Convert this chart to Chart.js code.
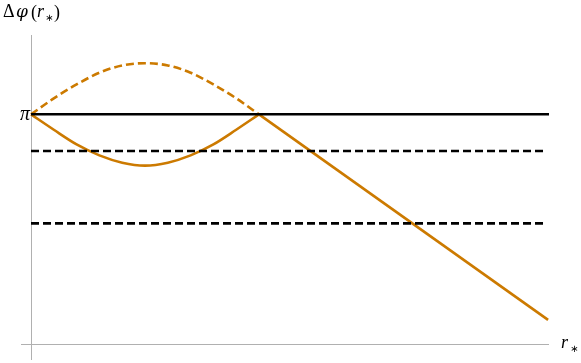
<!DOCTYPE html>
<html>
<head>
<meta charset="utf-8">
<script src="https://cdn.jsdelivr.net/npm/chart.js@4.4.1/dist/chart.umd.min.js"></script>
<style>
  html, body { margin: 0; padding: 0; background: #fff; }
  #wrap { width: 581px; height: 363px; }
</style>
</head>
<body>
<div id="wrap"><canvas id="plot"></canvas></div>
<script>
// values (x in units of the bump width, y in radians)
const PI = 3.1416;
const bumpX = [0, 0.1, 0.2, 0.3, 0.4, 0.5, 0.6, 0.7, 0.8, 0.9, 1];
const dipY = [3.14, 2.93, 2.73, 2.58, 2.48, 2.44, 2.48, 2.58, 2.73, 2.93, 3.14];
const archY = [3.14, 3.36, 3.55, 3.71, 3.81, 3.84, 3.81, 3.71, 3.55, 3.36, 3.14];
const slopeX = [1, 2.268];
const slopeY = [3.14, 0.33];
const levelPi = [PI, PI];
const levelsDashed = [2.64, 1.65];
const levelX = [0, 2.272];
const dashedX = [0, 2.254];

const orange = '#cc7a00';

function pts(xs, ys) {
    return xs.map((x, i) => ({ x: x, y: ys[i] }));
}

const datasets = [
    {
        data: pts(levelX, levelPi),
        borderColor: '#000', borderWidth: 2.6, pointRadius: 0, tension: 0
    },
    ...levelsDashed.map(v => ({
        data: pts(dashedX, [v, v]),
        borderColor: '#000', borderWidth: 2.6, borderDash: [8, 4], pointRadius: 0, tension: 0
    })),
    {
        data: pts(bumpX, archY),
        borderColor: orange, borderWidth: 2.6, borderDash: [8, 4], pointRadius: 0,
        cubicInterpolationMode: 'monotone'
    },
    {
        data: pts(bumpX, dipY),
        borderColor: orange, borderWidth: 2.6, pointRadius: 0,
        cubicInterpolationMode: 'monotone'
    },
    {
        data: pts(slopeX, slopeY),
        borderColor: orange, borderWidth: 2.6, pointRadius: 0, tension: 0
    }
];

const axesAndLabels = {
    id: 'axesAndLabels',
    beforeDatasetsDraw(chart) {
        const ctx = chart.ctx;
        const a = chart.chartArea;
        const x0 = Math.round(chart.scales.x.getPixelForValue(0)) + 0.5;
        const y0 = Math.round(chart.scales.y.getPixelForValue(0)) + 0.5;
        ctx.save();
        ctx.strokeStyle = '#b0b0b0';
        ctx.lineWidth = 1;
        ctx.beginPath();
        ctx.moveTo(x0, a.top);
        ctx.lineTo(x0, a.bottom);
        ctx.moveTo(a.left, y0);
        ctx.lineTo(a.right, y0);
        ctx.stroke();
        ctx.restore();
    },
    afterDraw(chart) {
        const ctx = chart.ctx;
        const yPi = chart.scales.y.getPixelForValue(PI);
        ctx.save();
        ctx.fillStyle = '#000';
        ctx.textBaseline = 'alphabetic';
        const up = '18px "Liberation Serif"';
        const it = 'italic 18px "Liberation Serif"';
        const phi = 'italic 17px "DejaVu Serif"';
        const sub = '10px "DejaVu Sans"';
        // y label  Δφ(r*), pieces placed one by one
        const parts = [[up, 'Δ', 3, 17], [phi, 'φ', 16, 17], [up, '(', 31, 18], [it, 'r', 37, 17], [sub, '∗', 45, 21], [up, ')', 54, 18]];
        parts.forEach(p => {
            ctx.font = p[0];
            ctx.fillText(p[1], p[2], p[3]);
        });
        // pi tick label
        ctx.font = 'italic 20px "Liberation Serif"';
        ctx.textAlign = 'right';
        ctx.fillText('π', 30, yPi + 6);
        // x label r*
        ctx.textAlign = 'left';
        ctx.font = it;
        ctx.fillText('r', 561, 348);
        ctx.font = sub;
        ctx.fillText('∗', 570, 352);
        ctx.restore();
    }
};

new Chart(document.getElementById('plot'), {
    type: 'line',
    data: { datasets: datasets },
    options: {
        responsive: true,
        maintainAspectRatio: false,
        animation: false,
        layout: { padding: { left: 21, right: 32, top: 35, bottom: 3 } },
        plugins: { legend: { display: false }, tooltip: { enabled: false } },
        scales: {
            x: { type: 'linear', min: -0.0439, max: 2.272, display: false },
            y: { type: 'linear', min: -0.219, max: 4.226, display: false }
        }
    },
    plugins: [axesAndLabels]
});
</script>
</body>
</html>
